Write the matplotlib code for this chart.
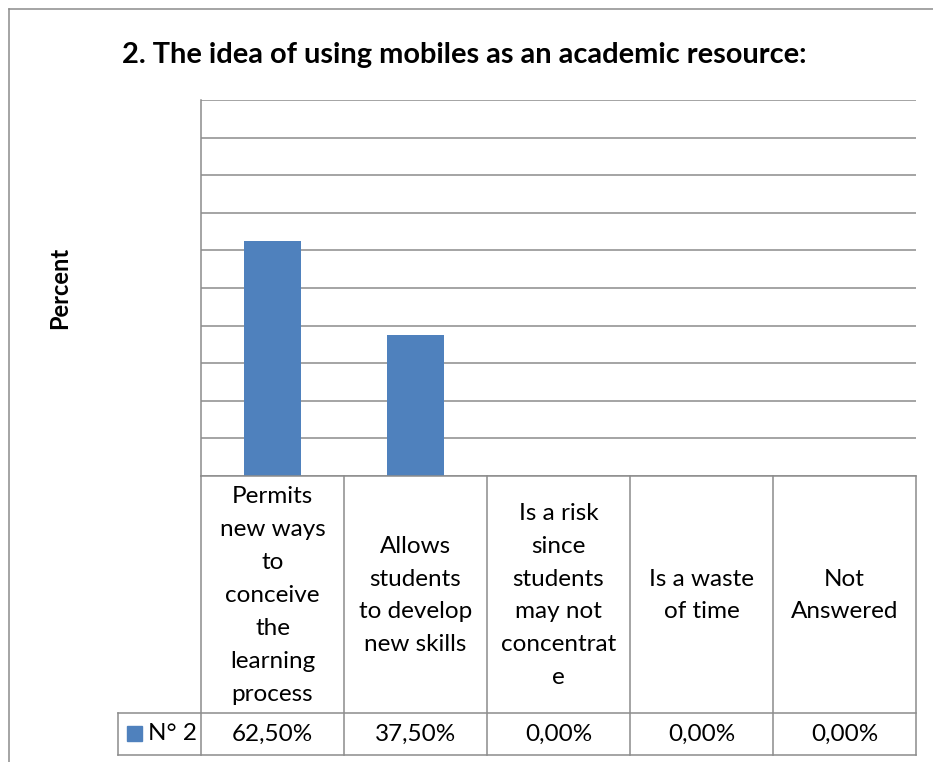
import matplotlib
matplotlib.use("Agg")
import matplotlib.pyplot as plt
from matplotlib.lines import Line2D
from matplotlib.patches import Rectangle

plt.rcParams['font.family'] = ['Lato', 'DejaVu Sans']

# Survey answers and their shares
categories = [
    "Permits\nnew ways\nto\nconceive\nthe\nlearning\nprocess",
    "Allows\nstudents\nto develop\nnew skills",
    "Is a risk\nsince\nstudents\nmay not\nconcentrat\ne",
    "Is a waste\nof time",
    "Not\nAnswered",
]
percent = [62.5, 37.5, 0.0, 0.0, 0.0]
series_name = "N° 2"
title = "2. The idea of using mobiles as an academic resource:"
y_label = "Percent"

BAR_COLOR = '#4F81BD'
LINE_COLOR = '#8C8C8C'

W, H = 933, 762
fig = plt.figure(figsize=(W / 100, H / 100), dpi=100)


def px_box(left, top, right, bottom):
    return [left / W, 1 - bottom / H, (right - left) / W, (bottom - top) / H]


# chart area
ax = fig.add_axes(px_box(201, 100, 916, 476))
x = list(range(len(categories)))
ax.bar(x, percent, width=0.4, color=BAR_COLOR, zorder=3)
ax.set_xlim(-0.5, len(categories) - 0.5)
ax.set_ylim(0, 100)
ax.set_yticks(range(0, 101, 10))
ax.set_xticks([])
ax.tick_params(axis='y', length=0, labelleft=False)
ax.grid(axis='y', color=LINE_COLOR, lw=1.1, zorder=0)
for side in ('top', 'right', 'bottom'):
    ax.spines[side].set_visible(False)
ax.spines['left'].set_color(LINE_COLOR)
ax.spines['left'].set_linewidth(1.1)

# data table under the chart, y measured in pixels downward
tab = fig.add_axes(px_box(201, 476, 916, 755), sharex=ax)
tab.set_ylim(279, 0)
tab.axis('off')
head_bottom = 237
legend_left = -0.5 - 83 / 143

lk = dict(color=LINE_COLOR, lw=1.1, clip_on=False)
tab.plot([-0.5, 4.5], [0, 0], **lk)
tab.plot([legend_left, 4.5], [head_bottom, head_bottom], **lk)
tab.plot([legend_left, 4.5], [279, 279], **lk)
tab.plot([legend_left, legend_left], [head_bottom, 279], **lk)
for b in range(len(categories) + 1):
    tab.plot([b - 0.5, b - 0.5], [0, 279], **lk)

txt = dict(ha='center', va='center', fontsize=17.5, color='black', linespacing=1.7)
for i, (cat, val) in enumerate(zip(categories, percent)):
    tab.text(i, head_bottom / 2 + 1, cat, **txt)
    tab.text(i, (head_bottom + 279) / 2, f"{val:.2f}%".replace('.', ','), **txt)

# legend key in the series cell
tab.add_patch(Rectangle((legend_left + 9 / 143, 250), 15 / 143, 15,
                        color=BAR_COLOR, clip_on=False))
tab.text(legend_left + 30 / 143, (head_bottom + 279) / 2, series_name,
         ha='left', va='center', fontsize=17.5)

fig.text(464 / W, 1 - 55 / H, title, ha='center', va='center',
         fontsize=20.9, fontweight='bold')
fig.text(60 / W, 1 - 288 / H, y_label, ha='center', va='center',
         rotation=90, fontsize=17, fontweight='bold')

# outer chart border (left and top edges)
fig.add_artist(Line2D([9 / W, 9 / W], [0, 1 - 8.5 / H], color=LINE_COLOR, lw=1.1))
fig.add_artist(Line2D([9 / W, 1], [1 - 8.5 / H, 1 - 8.5 / H], color=LINE_COLOR, lw=1.1))

fig.savefig('out.png', dpi=100, facecolor='white')
